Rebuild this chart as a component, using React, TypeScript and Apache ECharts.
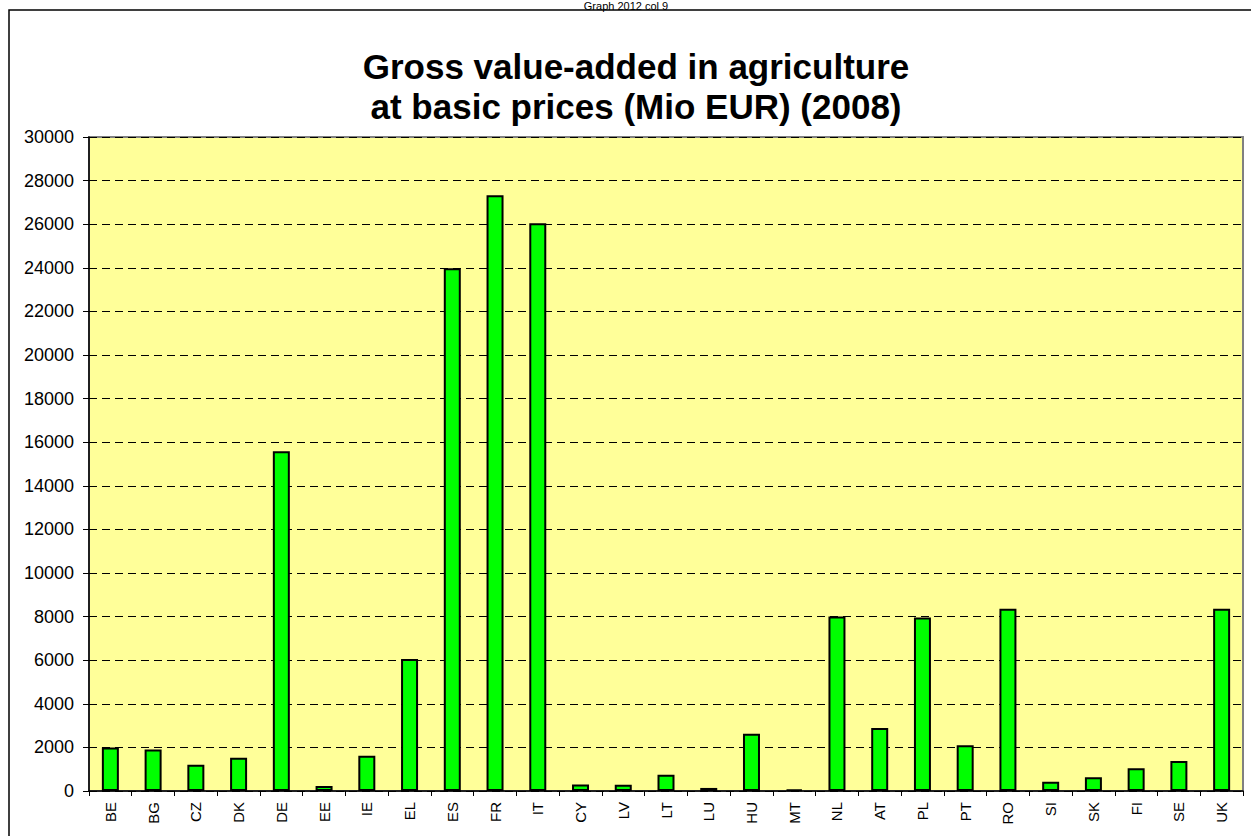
import React, { useEffect, useRef } from "react";
import * as echarts from "echarts";

const categories = ["BE","BG","CZ","DK","DE","EE","IE","EL","ES","FR","IT","CY","LV","LT","LU","HU","MT","NL","AT","PL","PT","RO","SI","SK","FI","SE","UK"];
const values = [1990,1900,1200,1530,15580,230,1620,6060,23980,27330,26040,300,290,750,140,2630,70,8000,2890,7960,2100,8360,430,630,1040,1380,8360];
const yMin = 0;
const yMax = 30000;
const yInterval = 2000;
const headerText = "Graph 2012 col 9";
const titleLines = ["Gross value-added in agriculture", "at basic prices (Mio EUR) (2008)"];

export default function App() {
  const ref = useRef<HTMLDivElement>(null);
  useEffect(() => {
    if (!ref.current) return;
    const chart = echarts.init(ref.current, null, { renderer: "svg" });
    const font = 'Arial, "Liberation Sans", sans-serif';
    chart.setOption({
      animation: false,
      backgroundColor: "#ffffff",
      textStyle: { fontFamily: font },
      graphic: [
        { type: "rect", shape: { x: 9, y: 10, width: 1300, height: 900 }, style: { fill: "none", stroke: "#000", lineWidth: 1.5 }, z: 100 },
        { type: "text", x: 626, y: 0, style: { text: headerText, font: `11px ${font}`, fill: "#000", textAlign: "center", textVerticalAlign: "top" } },
        { type: "text", x: 636, y: 66, style: { text: titleLines[0], font: `bold 35px ${font}`, fill: "#000", textAlign: "center", textVerticalAlign: "middle" } },
        { type: "text", x: 636, y: 106, style: { text: titleLines[1], font: `bold 35px ${font}`, fill: "#000", textAlign: "center", textVerticalAlign: "middle" } },
      ],
      grid: {
        left: 89, right: 8, top: 137, bottom: 45,
        show: true, backgroundColor: "#FFFF99", borderColor: "#808080", borderWidth: 2,
      },
      xAxis: {
        type: "category",
        data: categories,
        axisLine: { lineStyle: { color: "#000", width: 1.5 } },
        axisTick: { show: true, length: 5, lineStyle: { color: "#000" } },
        axisLabel: { rotate: 90, fontSize: 15, color: "#000", margin: 11, interval: 0, fontFamily: font },
      },
      yAxis: {
        type: "value",
        min: yMin, max: yMax, interval: yInterval,
        axisLine: { show: true, lineStyle: { color: "#000", width: 1.5 } },
        axisTick: { show: true, length: 6, lineStyle: { color: "#000" } },
        axisLabel: { fontSize: 18, color: "#000", margin: 15, fontFamily: font, formatter: (v: number) => String(v) },
        splitLine: { show: true, lineStyle: { color: "#000", type: [8, 5], width: 1 } },
      },
      series: [
        {
          type: "bar",
          data: values,
          barWidth: 17,
          itemStyle: { color: "#00FF00", borderColor: "#000", borderWidth: 2 },
        },
      ],
    });
    return () => chart.dispose();
  }, []);
  return <div ref={ref} style={{ position: "fixed", left: 0, top: 0, width: 1251, height: 836 }} />;
}
